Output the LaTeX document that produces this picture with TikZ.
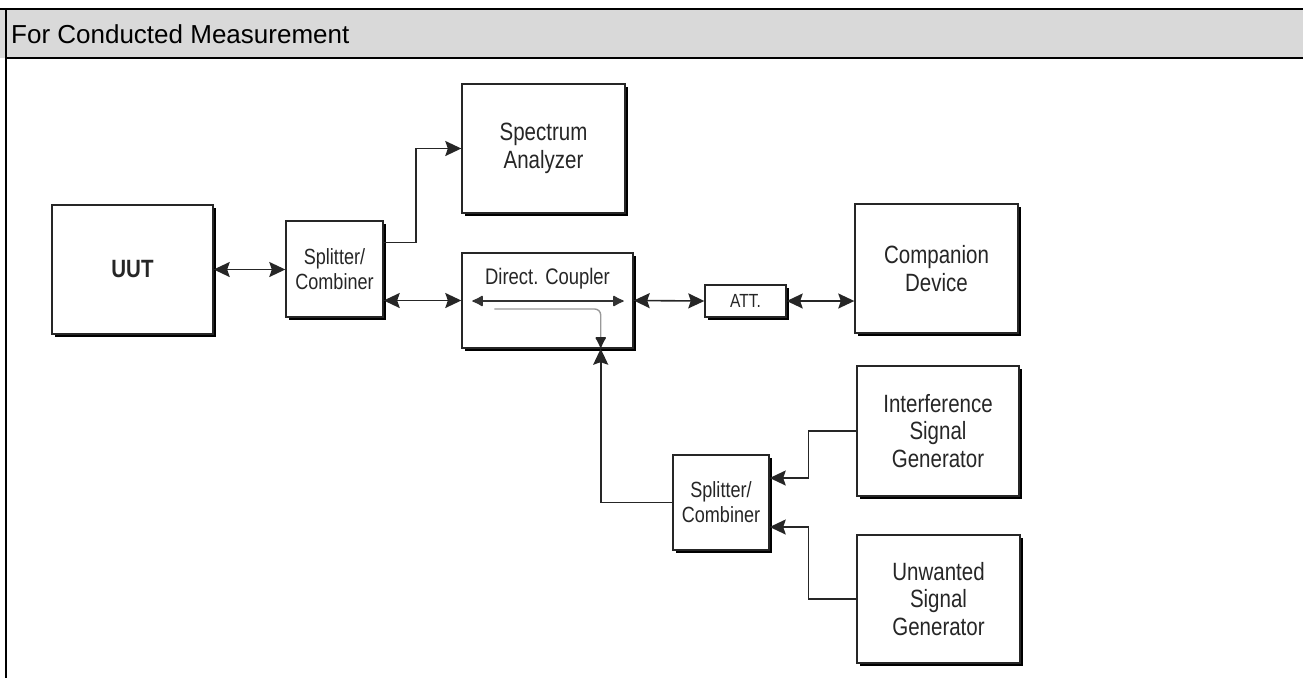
\documentclass[tikz,border=0pt]{standalone}
\usepackage{fontspec}
\setmainfont{Liberation Sans}
\newfontfamily\boxfont[FakeStretch=0.82]{Liberation Sans}
\usetikzlibrary{arrows.meta,calc,shadows}

\tikzset{
  block/.style={draw=black!85, line width=1.4pt, fill=white, inner sep=0pt,
    align=center, text=black!85,
    general shadow={fill=black, shadow xshift=3pt, shadow yshift=-3pt}},
  bigtext/.style={font=\boxfont\fontsize{25}{27.5}\selectfont},
  midtext/.style={font=\boxfont\fontsize{22}{25}\selectfont},
  wire/.style={draw=black!85, line width=1.6pt},
  tip/.style={wire, -{Stealth[length=16pt,width=15pt,inset=2.5pt]}},
  twotip/.style={wire, {Stealth[length=16pt,width=15pt,inset=2.5pt]}-{Stealth[length=16pt,width=15pt,inset=2.5pt]}},
}

\begin{document}
\begin{tikzpicture}[x=1pt,y=-1pt]
  \useasboundingbox (0,0) rectangle (1303,678);

  % header band and frame
  \fill[black!15] (0,9) rectangle (1303,58);
  \draw[line width=2pt] (0,9) -- (1303,9);
  \draw[line width=2pt] (5,58) -- (1303,58);
  \draw[line width=2pt] (5.5,8) -- (5.5,678);
  \node[anchor=base west, inner sep=0pt, font=\fontsize{26}{30}\selectfont] (title) at (11,43) {For Conducted Measurement};

  % blocks
  \node[block, minimum width=161pt, minimum height=129pt,
        font=\boxfont\bfseries\fontsize{25}{28}\selectfont] (uut) at (132.5,269.5) {UUT};
  \node[block, midtext, minimum width=97pt, minimum height=96pt] (split1) at (334.5,269) {Splitter/\\Combiner};
  \node[block, bigtext, minimum width=163pt, minimum height=129pt] (spec) at (543.5,148.5) {Spectrum\\Analyzer};
  \node[block, minimum width=171pt, minimum height=95pt] (coupler) at (547.5,300.5) {};
  \node[font=\boxfont\fontsize{22.5}{25}\selectfont, text=black!85] (cplabel) at (547.5,279) {Direct. Coupler};
  \node[block, font=\boxfont\fontsize{19}{22}\selectfont, minimum width=81pt, minimum height=32pt] (att) at (745.5,301) {ATT.};
  \node[block, bigtext, minimum width=163pt, minimum height=129pt] (comp) at (936.5,268.5) {Companion\\Device};
  \node[block, bigtext, minimum width=162pt, minimum height=130pt] (interf) at (938,431) {Interference\\Signal\\Generator};
  \node[block, bigtext, minimum width=163pt, minimum height=128pt] (unwanted) at (938.5,599) {Unwanted\\Signal\\Generator};
  \node[block, midtext, minimum width=96pt, minimum height=95pt] (split2) at (721,502.5) {Splitter/\\Combiner};

  % coupler port at the bottom edge
  \coordinate (cin) at ($(coupler.south east)+(-33,0)$);

  % coupler internals
  \draw[draw=black!80, line width=1.4pt,
        {Latex[length=12pt,width=12pt,round]}-{Latex[length=12pt,width=12pt,round]}]
        ($(coupler.west)+(11,0.5)$) -- ($(coupler.east)+(-10,0.5)$);
  \draw[draw=black!40, line width=1.4pt, rounded corners=6pt,
        -{Latex[length=12pt,width=12pt,round,color=black!85,fill=black!85]}]
        ($(coupler.west)+(33,8.5)$) -| ($(cin)+(0,-1)$);

  % connectors
  \draw[twotip] (uut.east) -- (uut.east -| split1.west);
  \draw[tip] ($(split1.north east)+(0,22)$) -- ++(32,0) |- (spec.west);
  \draw[twotip] (split1.east |- coupler.west) -- (coupler.west);
  \draw[twotip] (coupler.east) -- (att.west);
  \draw[twotip] (att.east) -- (att.east -| comp.west);
  \draw[tip] (split2.west) -| (cin);
  \draw[tip] (interf.west) -- ++(-48,0) |- ($(split2.east)+(0,-24.5)$);
  \draw[tip] (unwanted.west) -- ++(-48,0) |- ($(split2.east)+(0,24.5)$);
\end{tikzpicture}
\end{document}
